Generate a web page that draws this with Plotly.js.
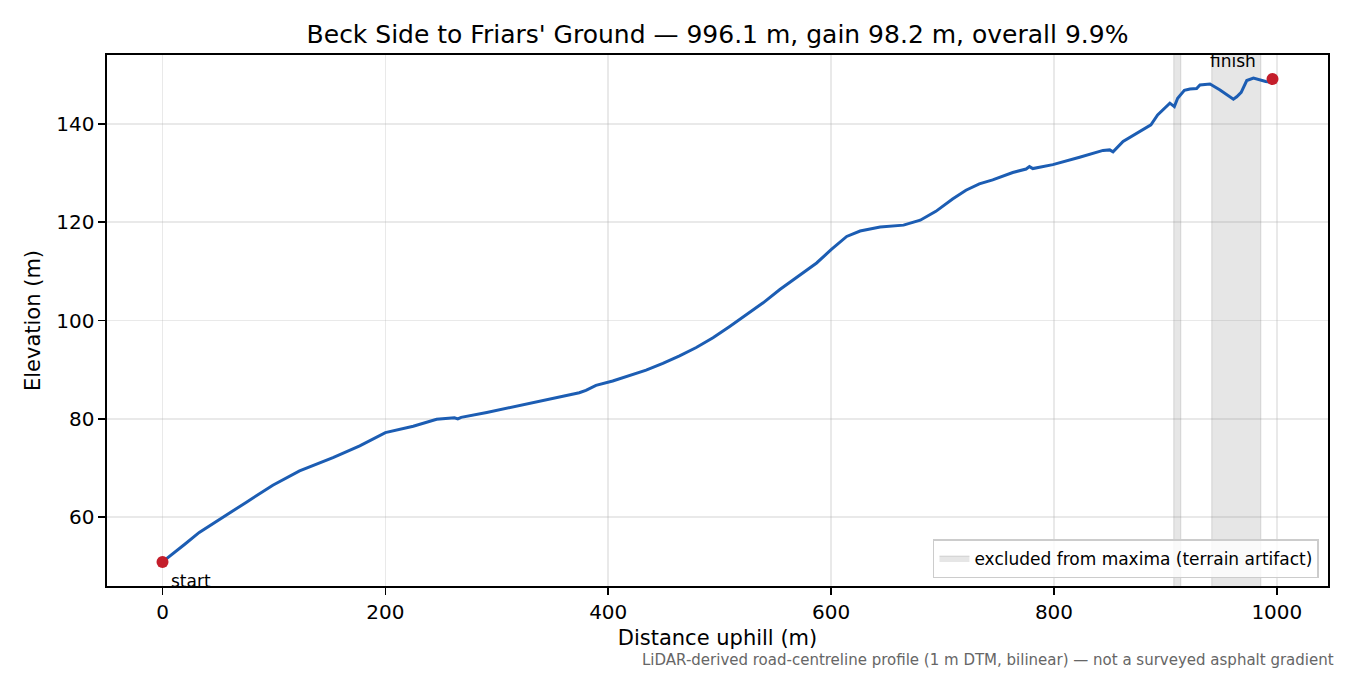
<!DOCTYPE html>
<html>
<head>
<meta charset="utf-8">
<script src="https://cdn.plot.ly/plotly-3.0.1.min.js"></script>
<style>html,body{margin:0;padding:0;background:#fff;}#chart{width:1350px;height:675px;}</style>
</head>
<body>
<div id="chart"></div>
<script>
// Distance along road (m)
const distance = [0, 10, 20, 33, 45, 57, 75, 99, 123, 153, 177, 200, 225, 246, 262, 265, 268, 291, 315, 350, 374, 380, 389, 404, 419, 434, 449, 464, 479, 494, 509, 524, 539, 554, 566, 587, 600, 614, 626, 644, 665, 680, 694, 709, 721, 733, 745, 763, 775, 778, 781, 799, 823, 844, 850, 853, 862, 877, 887, 893, 904, 908, 911, 917, 922, 928, 931, 940, 949, 961, 964, 968, 973, 979, 986, 990, 993, 996.1];
// Elevation (m)
const elevation = [50.9, 52.8, 54.5, 56.9, 58.6, 60.3, 63.0, 66.5, 69.4, 72.1, 74.5, 77.2, 78.5, 79.9, 80.2, 80.0, 80.3, 81.3, 82.5, 84.2, 85.3, 85.8, 86.8, 87.7, 88.8, 89.9, 91.3, 92.8, 94.5, 96.5, 98.8, 101.2, 103.6, 106.3, 108.3, 111.7, 114.4, 117.1, 118.2, 119.0, 119.4, 120.4, 122.2, 124.7, 126.5, 127.8, 128.6, 130.1, 130.8, 131.3, 130.9, 131.7, 133.2, 134.6, 134.7, 134.3, 136.4, 138.4, 139.8, 141.8, 144.2, 143.5, 145.2, 146.8, 147.1, 147.2, 147.9, 148.1, 146.9, 145.0, 145.5, 146.4, 148.8, 149.3, 148.8, 148.6, 148.5, 149.1];
// Excluded spans (terrain artifact), start/end distances
const excludedStart = [907.5, 941.6];
const excludedEnd = [913.8, 985.6];
const xTicks = [0, 200, 400, 600, 800, 1000];
const yTicks = [60, 80, 100, 120, 140];

const FONT = "DejaVu Sans, sans-serif";
const yLo = 46.0, yHi = 154.0;

// excluded band polygons
const bx = [], by = [];
for (let i = 0; i < excludedStart.length; i++) {
  if (i > 0) { bx.push(null); by.push(null); }
  bx.push(excludedStart[i], excludedEnd[i], excludedEnd[i], excludedStart[i], excludedStart[i]);
  by.push(yLo - 50, yLo - 50, yHi + 50, yHi + 50, yLo - 50);
}

const n = distance.length;
const traces = [
  {
    x: bx, y: by, type: 'scatter', mode: 'lines', fill: 'toself',
    fillcolor: 'rgba(128,128,128,0.2)', line: {color: 'rgba(128,128,128,0.25)', width: 1},
    name: 'excluded from maxima (terrain artifact)', showlegend: true, hoverinfo: 'skip'
  },
  {
    x: distance, y: elevation, type: 'scatter', mode: 'lines',
    line: {color: '#1c5db3', width: 3}, showlegend: false
  },
  {
    x: [distance[0], distance[n - 1]], y: [elevation[0], elevation[n - 1]],
    type: 'scatter', mode: 'markers', marker: {color: '#c41e2b', size: 12},
    showlegend: false, cliponaxis: false
  }
];

const axisCommon = {
  showline: true, mirror: true, linecolor: '#000', linewidth: 1.6,
  ticks: 'outside', ticklen: 7, tickwidth: 1.6, tickcolor: '#000',
  showgrid: true, gridcolor: 'rgba(176,176,176,0.28)', gridwidth: 1.5,
  zeroline: false, tickfont: {family: FONT, size: 20, color: '#000'}
};

const layout = {
  width: 1350, height: 675,
  margin: {l: 107, r: 22, t: 55, b: 89},
  paper_bgcolor: '#fff', plot_bgcolor: '#fff',
  font: {family: FONT, color: '#000'},
  title: {text: "Beck Side to Friars' Ground — 996.1 m, gain 98.2 m, overall 9.9%",
          font: {family: FONT, size: 25, color: '#000'}, x: 0.5, xref: 'paper', xanchor: 'center', y: 0.95, yanchor: 'middle', yref: 'container'},
  xaxis: Object.assign({}, axisCommon, {
    range: [-49.8, 1045.9], tickvals: xTicks, ticktext: xTicks.map(String),
    title: {text: 'Distance uphill (m)', font: {family: FONT, size: 21, color: '#000'}, standoff: 8}
  }),
  yaxis: Object.assign({}, axisCommon, {
    range: [yLo, yHi], tickvals: yTicks, ticktext: yTicks.map(String),
    title: {text: 'Elevation (m)', font: {family: FONT, size: 21, color: '#000'}, standoff: 10}
  }),
  legend: {
    x: 0.9926, xanchor: 'right', y: 0.015, yanchor: 'bottom',
    bgcolor: 'rgba(255,255,255,0.8)', bordercolor: '#cccccc', borderwidth: 1.5,
    font: {family: FONT, size: 17, color: '#000'}
  },
  annotations: [
    {x: distance[0], y: elevation[0], xref: 'x', yref: 'y', text: 'start', showarrow: false,
     xanchor: 'left', yanchor: 'middle', xshift: 7, yshift: -19, font: {family: FONT, size: 17, color: '#000'}},
    {x: distance[n - 1], y: elevation[n - 1], xref: 'x', yref: 'y', text: 'finish', showarrow: false,
     xanchor: 'center', yanchor: 'middle', xshift: -40, yshift: 18, font: {family: FONT, size: 17, color: '#000'}},
    {x: 1336, y: 660, xref: 'paper', yref: 'paper', text: 'LiDAR-derived road-centreline profile (1 m DTM, bilinear) — not a surveyed asphalt gradient',
     showarrow: false, xanchor: 'right', yanchor: 'middle', font: {family: FONT, size: 15, color: '#666'}}
  ]
};
// convert footnote pixel coords to paper coords
(function () {
  const a = layout.annotations[2];
  const pw = 1350 - layout.margin.l - layout.margin.r;
  const ph = 675 - layout.margin.t - layout.margin.b;
  a.x = (1336 - layout.margin.l) / pw;
  a.y = (675 - layout.margin.b - 660) / ph;
})();

Plotly.newPlot('chart', traces, layout, {staticPlot: true, displayModeBar: false});
</script>
</body>
</html>
